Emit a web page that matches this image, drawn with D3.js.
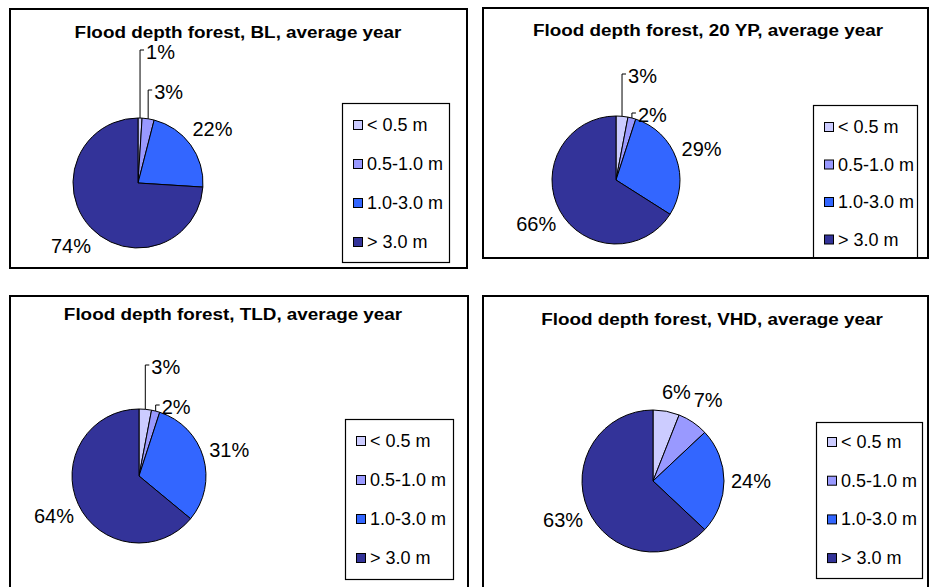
<!DOCTYPE html>
<html>
<head>
<meta charset="utf-8">
<script src="https://cdn.jsdelivr.net/npm/d3@7"></script>
<style>
  html, body { margin: 0; padding: 0; background: #fff; }
  svg { display: block; }
  text { font-family: "Liberation Sans", Arial, sans-serif; fill: #000; }
</style>
</head>
<body>
<svg id="chart" width="929" height="587"></svg>
<script>
// Flood depth classes (legend entries, in slice order clockwise from 12 o'clock)
const categories = ["< 0.5 m", "0.5-1.0 m", "1.0-3.0 m", "> 3.0 m"];
const classColors = ["#CCCCFF", "#9999FF", "#3366FF", "#333399"];

// Scenario names
const scenarios = ["BL", "20 YP", "TLD", "VHD"];

// Share of forest area per flood depth class (%), average year
const blValues   = [1, 3, 22, 74];
const yp20Values = [3, 2, 29, 66];
const tldValues  = [3, 2, 31, 64];
const vhdValues  = [6, 7, 24, 63];

const seriesValues = [blValues, yp20Values, tldValues, vhdValues];

// Panel layout: frame, title anchor, pie centre/radius, legend box,
// leader-line levels for thin slices, and small label nudges
const layouts = [
  { frame: [10, 9, 457, 259], title: [238, 38], pie: [138, 183, 65],
    legend: [342, 103, 107, 159, 22, 39], leaders: { 0: -133, 1: -93 }, nudges: {} },
  { frame: [483, 8, 445, 250], title: [708, 36], pie: [616, 180, 64],
    legend: [813, 105, 104, 153, 22, 37.5], leaders: { 0: -106, 1: -67 }, nudges: {} },
  { frame: [10, 296, 458, 320], title: [233, 320], pie: [139, 476, 67],
    legend: [345, 419, 108, 160, 22, 39], leaders: { 0: -111, 1: -71 }, nudges: {} },
  { frame: [483, 296, 445, 320], title: [712, 325], pie: [653, 481, 71],
    legend: [816, 422, 106, 156, 20, 38.7], leaders: {}, nudges: { 0: [5, 7] } }
];

const svg = d3.select("#chart");
const color = d3.scaleOrdinal().domain(categories).range(classColors);
const pie = d3.pie().sort(null).value(d => d.value).startAngle(0).endAngle(2 * Math.PI);

seriesValues.forEach((values, p) => {
  const L = layouts[p];
  const g = svg.append("g");

  // Panel frame
  const [fx, fy, fw, fh] = L.frame;
  const clipId = "clip" + p;
  svg.append("clipPath").attr("id", clipId)
    .append("rect").attr("x", fx).attr("y", fy).attr("width", fw).attr("height", fh);

  g.append("rect")
    .attr("x", fx).attr("y", fy).attr("width", fw).attr("height", fh)
    .attr("fill", "#fff").attr("stroke", "none");

  // Title
  g.append("g")
    .attr("transform", `translate(${L.title[0]},${L.title[1]}) scale(1.11,1)`)
    .append("text")
    .attr("text-anchor", "middle")
    .attr("font-size", 17)
    .attr("font-weight", "bold")
    .text(`Flood depth forest, ${scenarios[p]}, average year`);

  // Pie
  const [cx, cy, r] = L.pie;
  const data = categories.map((c, i) => ({ cat: c, value: values[i] }));
  const arcs = pie(data);
  const arc = d3.arc().innerRadius(0).outerRadius(r);

  const pg = g.append("g").attr("transform", `translate(${cx},${cy})`);
  pg.selectAll("path.slice")
    .data(arcs)
    .join("path")
    .attr("class", "slice")
    .attr("d", arc)
    .attr("fill", d => color(d.data.cat))
    .attr("stroke", "#000")
    .attr("stroke-width", 1)
    .attr("stroke-linejoin", "round");

  // Value labels
  const labelArc = d3.arc().innerRadius(r + 27).outerRadius(r + 27);
  arcs.forEach((d, i) => {
    const mid = (d.startAngle + d.endAngle) / 2;
    const label = `${d.data.value}%`;
    if (L.leaders[i] !== undefined) {
      const ex = r * Math.sin(mid);
      const ey = -r * Math.cos(mid);
      const ly = L.leaders[i];
      pg.append("path")
        .attr("d", `M${ex},${ey}V${ly}H${ex + 4}`)
        .attr("fill", "none")
        .attr("stroke", "#000")
        .attr("stroke-width", 1);
      pg.append("text")
        .attr("x", ex + 6)
        .attr("y", ly + 9)
        .attr("font-size", 20)
        .text(label);
    } else {
      const [lx, ly] = labelArc.centroid(d);
      const nudge = L.nudges[i] || [0, 0];
      pg.append("text")
        .attr("x", lx + nudge[0])
        .attr("y", ly + nudge[1])
        .attr("dy", "0.35em")
        .attr("text-anchor", "middle")
        .attr("font-size", 20)
        .text(label);
    }
  });

  // Legend
  const [lgx, lgy, lgw, lgh, row0, rowGap] = L.legend;
  const lg = g.append("g").attr("clip-path", `url(#${clipId})`);
  lg.append("rect")
    .attr("x", lgx + 0.5).attr("y", lgy + 0.5).attr("width", lgw).attr("height", lgh)
    .attr("fill", "#fff").attr("stroke", "#000").attr("stroke-width", 1.2);
  const rows = lg.selectAll("g.row")
    .data(categories)
    .join("g")
    .attr("class", "row")
    .attr("transform", (c, i) => `translate(${lgx + 11},${lgy + row0 + i * rowGap})`);
  rows.append("rect")
    .attr("x", 0.5).attr("y", -4.5).attr("width", 9).attr("height", 9)
    .attr("fill", c => color(c))
    .attr("stroke", "#000").attr("stroke-width", 1);
  rows.append("text")
    .attr("x", 14)
    .attr("y", 6)
    .attr("font-size", 18)
    .text(c => c);

  // Frame border on top
  g.append("rect")
    .attr("x", fx).attr("y", fy).attr("width", fw).attr("height", fh)
    .attr("fill", "none").attr("stroke", "#000").attr("stroke-width", 2);
});
</script>
</body>
</html>
